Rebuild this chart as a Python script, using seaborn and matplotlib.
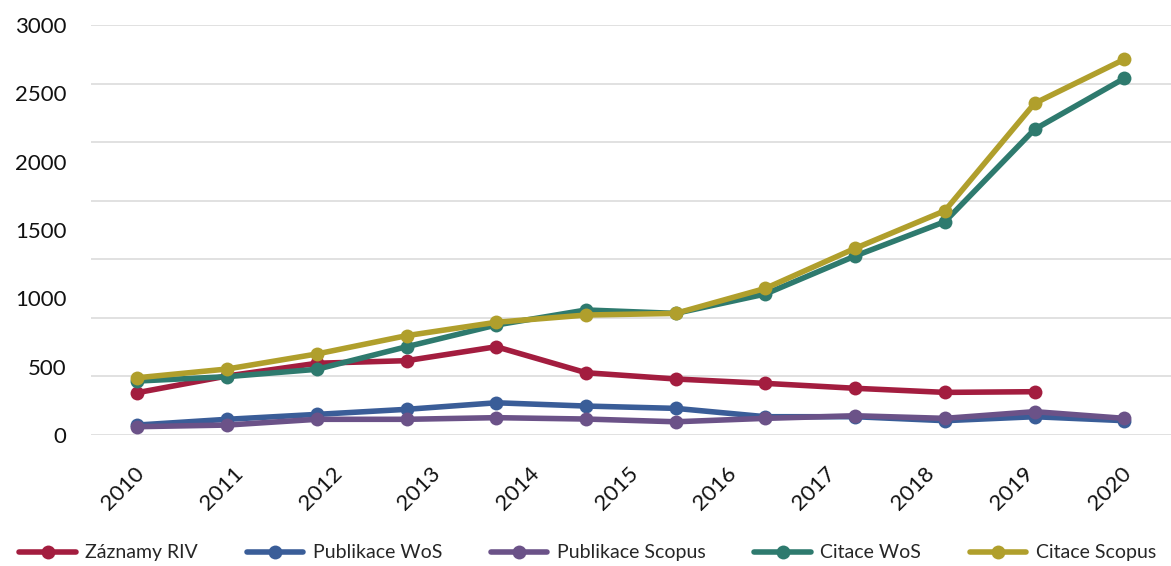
import numpy as np
import pandas as pd
import matplotlib.pyplot as plt
import seaborn as sns
from matplotlib.transforms import ScaledTranslation

# Data (12 points per series, 11 year labels)
years = ["2010", "2011", "2012", "2013", "2014", "2015",
         "2016", "2017", "2018", "2019", "2020"]
zaznamy_riv = [310, 432, 525, 544, 646, 456, 410, 378, 342, 312, 317, np.nan]
publikace_wos = [73, 115, 151, 188, 236, 212, 195, 134, 134, 105, 134, 105]
publikace_scopus = [61, 73, 115, 115, 127, 117, 97, 122, 141, 122, 171, 122]
citace_wos = [395, 427, 481, 646, 805, 915, 890, 1032, 1310, 1561, 2237, 2610]
citace_scopus = [419, 483, 593, 727, 825, 878, 890, 1073, 1366, 1641, 2427, 2749]

series_names = ["Záznamy RIV", "Publikace WoS", "Publikace Scopus", "Citace WoS", "Citace Scopus"]
series_values = [zaznamy_riv, publikace_wos, publikace_scopus, citace_wos, citace_scopus]
colors = ["#a31d3f", "#3a5d98", "#6b5288", "#2e7a6e", "#b09f2c"]

sns.set_style("white")
plt.rcParams["font.family"] = ["Lato", "DejaVu Sans"]

fig, ax = plt.subplots(figsize=(11.71, 5.66), dpi=100)
fig.subplots_adjust(left=0.078, right=1.0, top=0.9558, bottom=0.2314)

pos = np.arange(len(citace_scopus))
for name, vals, c in zip(series_names, series_values, colors):
    sns.lineplot(x=pos, y=vals, color=c, marker="o", markersize=10,
                 markeredgewidth=0, linewidth=4, label=name, ax=ax,
                 errorbar=None)

ax.set_xlim(-0.513, 11.52)
ax.set_ylim(0, 3000)

# grid lines (7 equal intervals, as in the reference)
for g in np.linspace(0, 3000, 8):
    ax.axhline(g, color="#dcdcdc", linewidth=1.2, zorder=0)

ax.set_yticks(np.arange(0, 3001, 500))
ax.tick_params(axis="y", length=0, pad=18, labelsize=16, colors="#111111")
ax.set_xticks(np.linspace(0, 11, len(years)))
ax.set_xticklabels(years, rotation=45, ha="right", va="top", rotation_mode="anchor")
ax.tick_params(axis="x", length=0, pad=20, labelsize=16, colors="#111111")
for lab in ax.get_xticklabels():
    lab.set_transform(lab.get_transform() + ScaledTranslation(-0.03, 0, fig.dpi_scale_trans))

ax.set_xlabel("")
ax.set_ylabel("")
sns.despine(ax=ax, left=True, bottom=True)

handles, labels = ax.get_legend_handles_labels()
ax.get_legend().remove()
fig.legend(handles, labels, loc="center", bbox_to_anchor=(0.502, 0.023), ncol=5,
           frameon=False, fontsize=14, handlelength=2.9, handletextpad=0.5,
           columnspacing=2.5)

plt.savefig("out.png", dpi=100)
